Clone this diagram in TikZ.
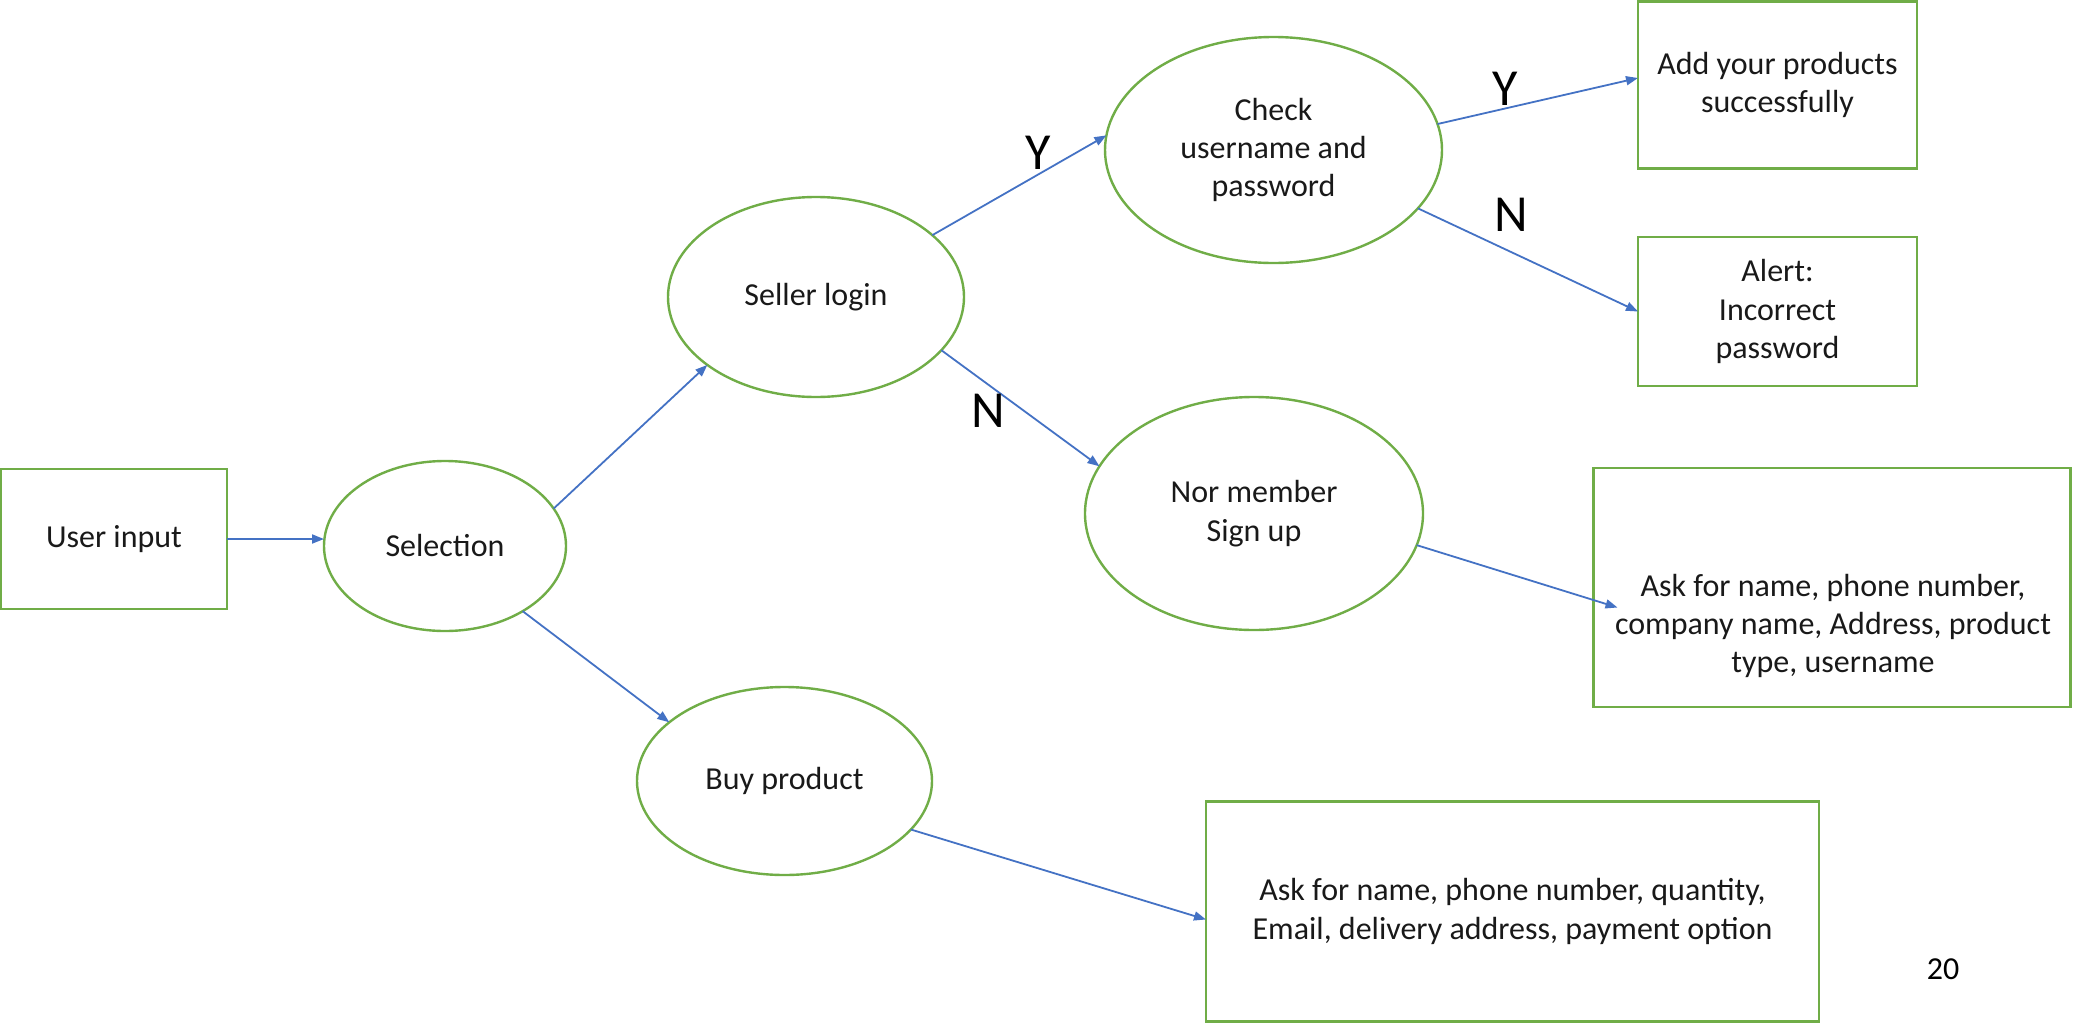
\documentclass[tikz,border=0pt]{standalone}
\usepackage{fontspec}
\setmainfont{Carlito}
\usetikzlibrary{shapes.geometric,arrows.meta,calc}
\definecolor{boxgreen}{HTML}{70AD47}
\definecolor{arrowblue}{HTML}{4472C4}
\tikzset{
  txt/.style={font=\fontsize{16}{19.2}\selectfont, align=center, text=black!90},
  rbox/.style={draw=boxgreen, line width=1.2pt, rectangle, inner sep=0pt, outer sep=0pt},
  oval/.style={draw=boxgreen, line width=1.2pt, ellipse, inner sep=0pt, outer sep=0pt, txt},
  conn/.style={draw=arrowblue, line width=0.9pt, -{Triangle[length=6pt,width=4.5pt]}},
  yn/.style={font=\fontsize{26}{30}\selectfont, text=black}
}
\begin{document}
\begin{tikzpicture}[x=0.5pt,y=-0.5pt]
\useasboundingbox (0,0) rectangle (2073,1023);
% boxes
\node[rbox, txt, minimum width=113pt, minimum height=70pt] (user) at (114,539) {User input};
\node[rbox, txt, minimum width=139.5pt, minimum height=83.5pt] (add) at (1777.5,85) {Add your products\\successfully};
\node[rbox, txt, minimum width=139.5pt, minimum height=74.5pt] (alert) at (1777.5,311.5) {Alert:\\Incorrect\\password};
\node[rbox, minimum width=238.5pt, minimum height=119.5pt] (ask1) at (1832,587.5) {};
\node[txt] (ask1t) at (1833,626) {Ask for name, phone number,\\company name, Address, product\\type, username};
\node[rbox, txt, minimum width=306.5pt, minimum height=110pt] (ask2) at (1512.5,911.5) {Ask for name, phone number, quantity,\\Email, delivery address, payment option};
% ellipses
\node[oval, minimum width=121pt, minimum height=85pt] (sel) at (445,546) {Selection};
\node[oval, minimum width=148pt, minimum height=100pt] (seller) at (816,297) {Seller login};
\node[oval, minimum width=168.5pt, minimum height=113pt] (check) at (1273.5,150) {Check\\username and\\password};
\node[oval, minimum width=169pt, minimum height=116.5pt] (nor) at (1254,513.5) {Nor member\\Sign up};
\node[oval, minimum width=147.5pt, minimum height=94pt] (buy) at (784.5,781) {Buy product};
% connectors
\draw[conn] (user.east) -- (user.east -| sel.west);
\draw[conn] (sel.19) -- (seller.212);
\draw[conn] (sel.-40) -- (buy.153);
\draw[conn] (seller.28) -- (check.175);
\draw[conn] (seller.-23) -- (nor.163);
\draw[conn] (check.9) -- ([yshift=3.5pt]add.west);
\draw[conn] (check.-22) -- (alert.west);
\draw[conn] (nor.-11) -- ([xshift=12pt,yshift=-10pt]ask1.west);
\draw[conn] (buy.-21) -- ([yshift=-4pt]ask2.west);
% labels
\node[yn] (y1) at (1038,153) {Y};
\node[yn] (n1) at (988,411) {N};
\node[yn] (y2) at (1505,89) {Y};
\node[yn] (n2) at (1511,215) {N};
\node[txt, text=black] (pg) at (1943,969) {20};
\end{tikzpicture}
\end{document}
